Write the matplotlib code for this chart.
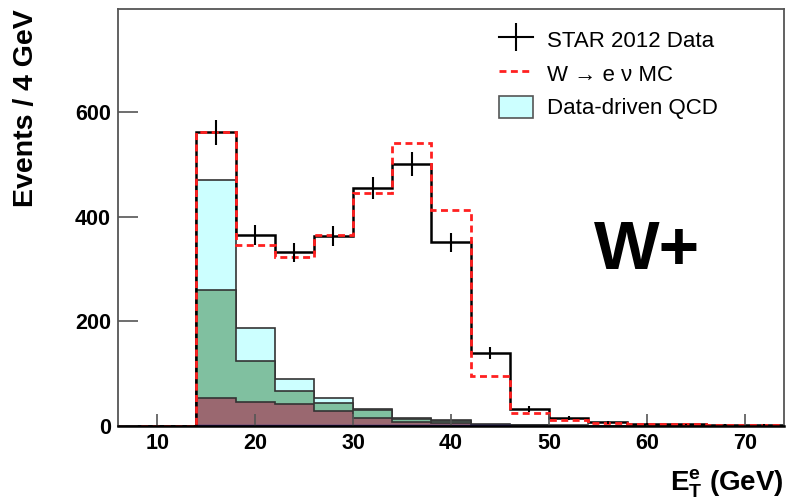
import numpy as np
import matplotlib
matplotlib.use("Agg")
import matplotlib.pyplot as plt
from matplotlib.lines import Line2D
from matplotlib.patches import Patch

plt.rcParams['font.family'] = ['Liberation Sans', 'DejaVu Sans']
plt.rcParams['mathtext.fontset'] = 'custom'
plt.rcParams['mathtext.rm'] = 'Liberation Sans'
plt.rcParams['mathtext.bf'] = 'Liberation Sans:bold'

# Data ########################################################################
edges = np.arange(6, 75, 4)  # 6, 10, ..., 74 GeV, 4 GeV bins

star_data = [0, 0, 561, 365, 332, 363, 455, 501, 351, 139, 33, 15, 7, 4.5, 3, 2, 2]
w_mc = [0, 0, 561, 346, 323, 365, 445, 541, 412, 96, 24, 11.5, 5, 4, 3, 2, 2]
qcd_cyan = [0, 0, 470, 187, 89, 54, 33, 16, 11, 3, 1.5, 1, 0.5, 0, 0, 0, 0]
bkg_green = [0, 0, 260, 125, 67.6, 44, 31, 14, 10, 2.5, 1, 0.5, 0, 0, 0, 0, 0]
bkg_maroon = [0, 0, 53, 46, 41.5, 29, 16, 8, 5, 2, 0.5, 0, 0, 0, 0, 0, 0]
bkg_navy = [0, 0, 2.5, 2.5, 2.5, 2.5, 2.5, 2.5, 2.5, 2.5, 0, 0, 0, 0, 0, 0, 0]

x_ticks = [10, 20, 30, 40, 50, 60, 70]
y_ticks = [0, 200, 400, 600]

# Canvas ######################################################################
fig = plt.figure(figsize=(7.86, 5.03), dpi=100)
ax = fig.add_axes([118/786, 77/503, 666/786, 417/503])

# Stacked backgrounds (drawn back to front)
ax.stairs(qcd_cyan, edges, fill=True, facecolor='#ccffff', edgecolor='#333333', lw=1.2)
ax.stairs(bkg_green, edges, fill=True, facecolor='#80c0a0', edgecolor='#333333', lw=1.2)
ax.stairs(bkg_maroon, edges, fill=True, facecolor='#9a6870', edgecolor='#333333', lw=1.2)
ax.stairs(bkg_navy, edges, fill=True, facecolor='#3a2fa8', edgecolor='#2a2080', lw=1.0)

# Data histogram + MC
ax.stairs(star_data, edges, color='black', lw=1.8)
ax.stairs(w_mc, edges, color='#ff2020', lw=2.0, linestyle=(0, (2.5, 1.6)))

# Data error bars
centers = 0.5 * (edges[:-1] + edges[1:])
vals = np.array(star_data, dtype=float)
mask = vals > 0
ax.errorbar(centers[mask], vals[mask], yerr=np.sqrt(vals[mask]), fmt='none',
            ecolor='black', elinewidth=1.5, capsize=0)

# Axes styling
ax.set_xlim(6, 74)
ax.set_ylim(0, 797)
ax.set_xticks(x_ticks)
ax.set_yticks(y_ticks)
ax.tick_params(axis='x', direction='in', length=8.6, width=1.2, pad=5,
               labelsize=15.5, top=False, color='#555555')
ax.tick_params(axis='y', direction='in', length=14.4, width=1.2, pad=5,
               labelsize=15.5, right=False, color='#555555')
for lab in ax.get_xticklabels() + ax.get_yticklabels():
    lab.set_fontweight('bold')
for s in ['top', 'right', 'left']:
    ax.spines[s].set_color('#555555')
    ax.spines[s].set_linewidth(1.3)
ax.spines['bottom'].set_color('black')
ax.spines['bottom'].set_linewidth(1.8)

ax.set_ylabel('Events / 4 GeV', fontsize=20.5, fontweight='bold', loc='top')
ax.yaxis.set_label_coords(-0.118, 1.0)
ax.set_xlabel(r'$\mathbf{E^{e}_{T}}$ (GeV)', fontsize=20, fontweight='bold', loc='right')
ax.xaxis.set_label_coords(1.0, -0.1)

ax.text(0.794, 0.42, 'W+', transform=ax.transAxes, fontsize=50,
        fontweight='bold', ha='center', va='center')

# Legend
handles = [
    Line2D([], [], color='black', lw=1.5, marker='|', markersize=20, markeredgewidth=1.5),
    Line2D([], [], color='#ff2020', lw=2.0, linestyle=(0, (2.5, 1.6))),
    Patch(facecolor='#ccffff', edgecolor='#555555', lw=1.2),
]
labels = ['STAR 2012 Data', 'W \u2192 e \u03bd MC', 'Data-driven QCD']
ax.legend(handles, labels, loc='upper left', bbox_to_anchor=(0.572, 0.955),
          frameon=False, fontsize=16, handlelength=1.55, handleheight=1.2,
          handletextpad=0.6, labelspacing=0.45, borderpad=0, borderaxespad=0,
          numpoints=1)

fig.savefig('out.png', dpi=100)
plt.close()
